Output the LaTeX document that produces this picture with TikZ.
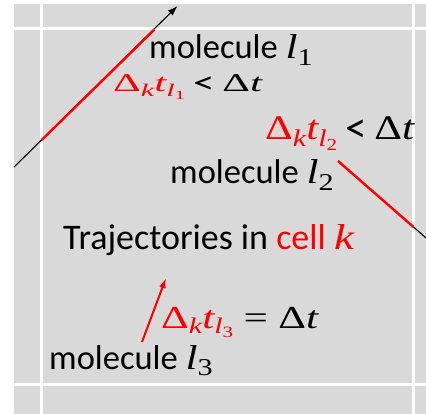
\documentclass[tikz,border=0pt]{standalone}
\usepackage{fontspec}
\setmainfont{Carlito}
\newfontfamily\mf[FakeStretch=1.25]{Liberation Serif}
\usetikzlibrary{arrows.meta}
\definecolor{bggray}{HTML}{D9D9D9}
\definecolor{tred}{HTML}{FF0000}
\newcommand\dsub[2][-0.18em]{\raisebox{#1}{\scalebox{0.7}{#2}}}
\newcommand\vl[1]{{\mf\itshape l}\dsub{\mf #1}}
\newcommand\Dkt[1]{{\mf Δ}\dsub{\mf\itshape k}{\mf\itshape t}\dsub{\vl{#1}}}
\newcommand\Dt{{\mf Δ\itshape t}}
\newcommand\lessthan{\raisebox{-0.07em}{\scalebox{1.25}{<}}}
\tikzset{
  lbl/.style={anchor=base west, inner sep=0pt, font=\fontsize{34.5}{40}\selectfont},
  gridline/.style={white, line width=3pt},
  traj/.style={black, line width=1.1pt},
  hit/.style={tred, line width=2.4pt},
  tip/.style={-{Latex[length=10pt,width=7pt]}}
}
\begin{document}
\begin{tikzpicture}[x=1pt,y=-1pt]
\useasboundingbox (0,0) rectangle (426,414);
\fill[bggray] (14,4) rectangle (426,414);
\draw[gridline] (41.5,4) -- (41.5,414);
\draw[gridline] (413.5,4) -- (413.5,414);
\draw[gridline] (14,29) -- (426,29);
\draw[gridline] (14,384.5) -- (426,384.5);
% trajectory 1
\coordinate (t1s) at (14,167.1);
\coordinate (t1a) at (41.7,140);
\coordinate (t1b) at (154.5,29.5);
\coordinate (t1e) at (177.5,6);
\draw[traj,tip] (t1s) -- (t1e);
\draw[hit] (t1a) -- (t1b);
% trajectory 2
\coordinate (t2a) at (338,161);
\coordinate (t2b) at (413.5,227);
\coordinate (t2e) at (426,237.9);
\draw[hit] (t2a) -- (t2b);
\draw[traj] (t2b) -- (t2e);
% trajectory 3
\coordinate (t3a) at (142,342);
\coordinate (t3b) at (166,278);
\draw[hit,line width=2pt,tip] (t3a) -- (t3b);
% labels
\node[lbl] (m1) at (149,59) {molecule \vl{1}};
\node[lbl] (d1) at (113,92) {\scalebox{1}[0.74]{\textcolor{tred}{\Dkt{1}} \lessthan{} \Dt}};
\node[lbl] (d2) at (265,140) {\textcolor{tred}{\Dkt{2}} \lessthan{} \Dt};
\node[lbl] (m2) at (170,184) {molecule \vl{2}};
\node[lbl,font=\fontsize{36}{42}\selectfont] (tr) at (63,250) {Trajectories in \textcolor{tred}{cell {\mf\itshape k}}};
\node[lbl] (d3) at (161,328) {\scalebox{1}[0.93]{\textcolor{tred}{\Dkt{3}}\hspace{0.3em}{\mf =}\hspace{0.3em}\Dt}};
\node[lbl] (m3) at (49,369) {molecule \vl{3}};
\end{tikzpicture}
\end{document}
